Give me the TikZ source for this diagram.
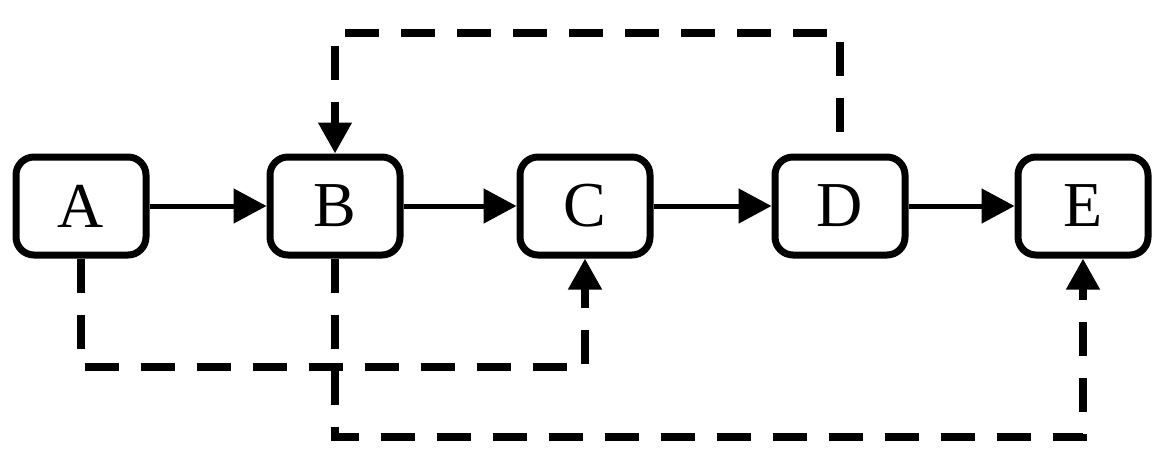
\documentclass[tikz,border=0pt]{standalone}
\usepackage{fontspec}
\setmainfont{Liberation Serif}
\usetikzlibrary{arrows.meta}
\begin{document}
\begin{tikzpicture}[x=1pt,y=1pt,
  box/.style={draw, line width=7pt, rounded corners=18pt, minimum width=130pt, minimum height=98pt, inner sep=0pt, font=\fontsize{64}{70}\selectfont},
  solidarrow/.style={line width=5pt, -{Triangle[length=33pt,width=34pt]}},
  dashedarrow/.style={line width=7.5pt, dash pattern=on 34pt off 22pt, -{Triangle[length=31pt,width=32pt]}}]
\useasboundingbox (0,0) rectangle (1165,-469);
\node[box] (A) at (81,-206) {A};
\node[box] (B) at (335,-206) {B};
\node[box] (C) at (585,-206) {C};
\node[box] (D) at (840,-206) {D};
\node[box] (E) at (1083,-206) {E};
\coordinate (yac) at (0,-367);
\coordinate (ybe) at (0,-437);
\coordinate (ytop) at (0,-33);
\draw[solidarrow] (A) -- (B);
\draw[solidarrow] (B) -- (C);
\draw[solidarrow] (C) -- (D);
\draw[solidarrow] (D) -- (E);
\draw[dashedarrow] (A.south) -- (A.south |- yac) -| (C.south);
\draw[dashedarrow] (B.south) -- (B.south |- ybe) -| (E.south);
\draw[dashedarrow, dash phase=34pt] (D.north) -- (D.north |- ytop) -| (B.north);
\end{tikzpicture}
\end{document}
